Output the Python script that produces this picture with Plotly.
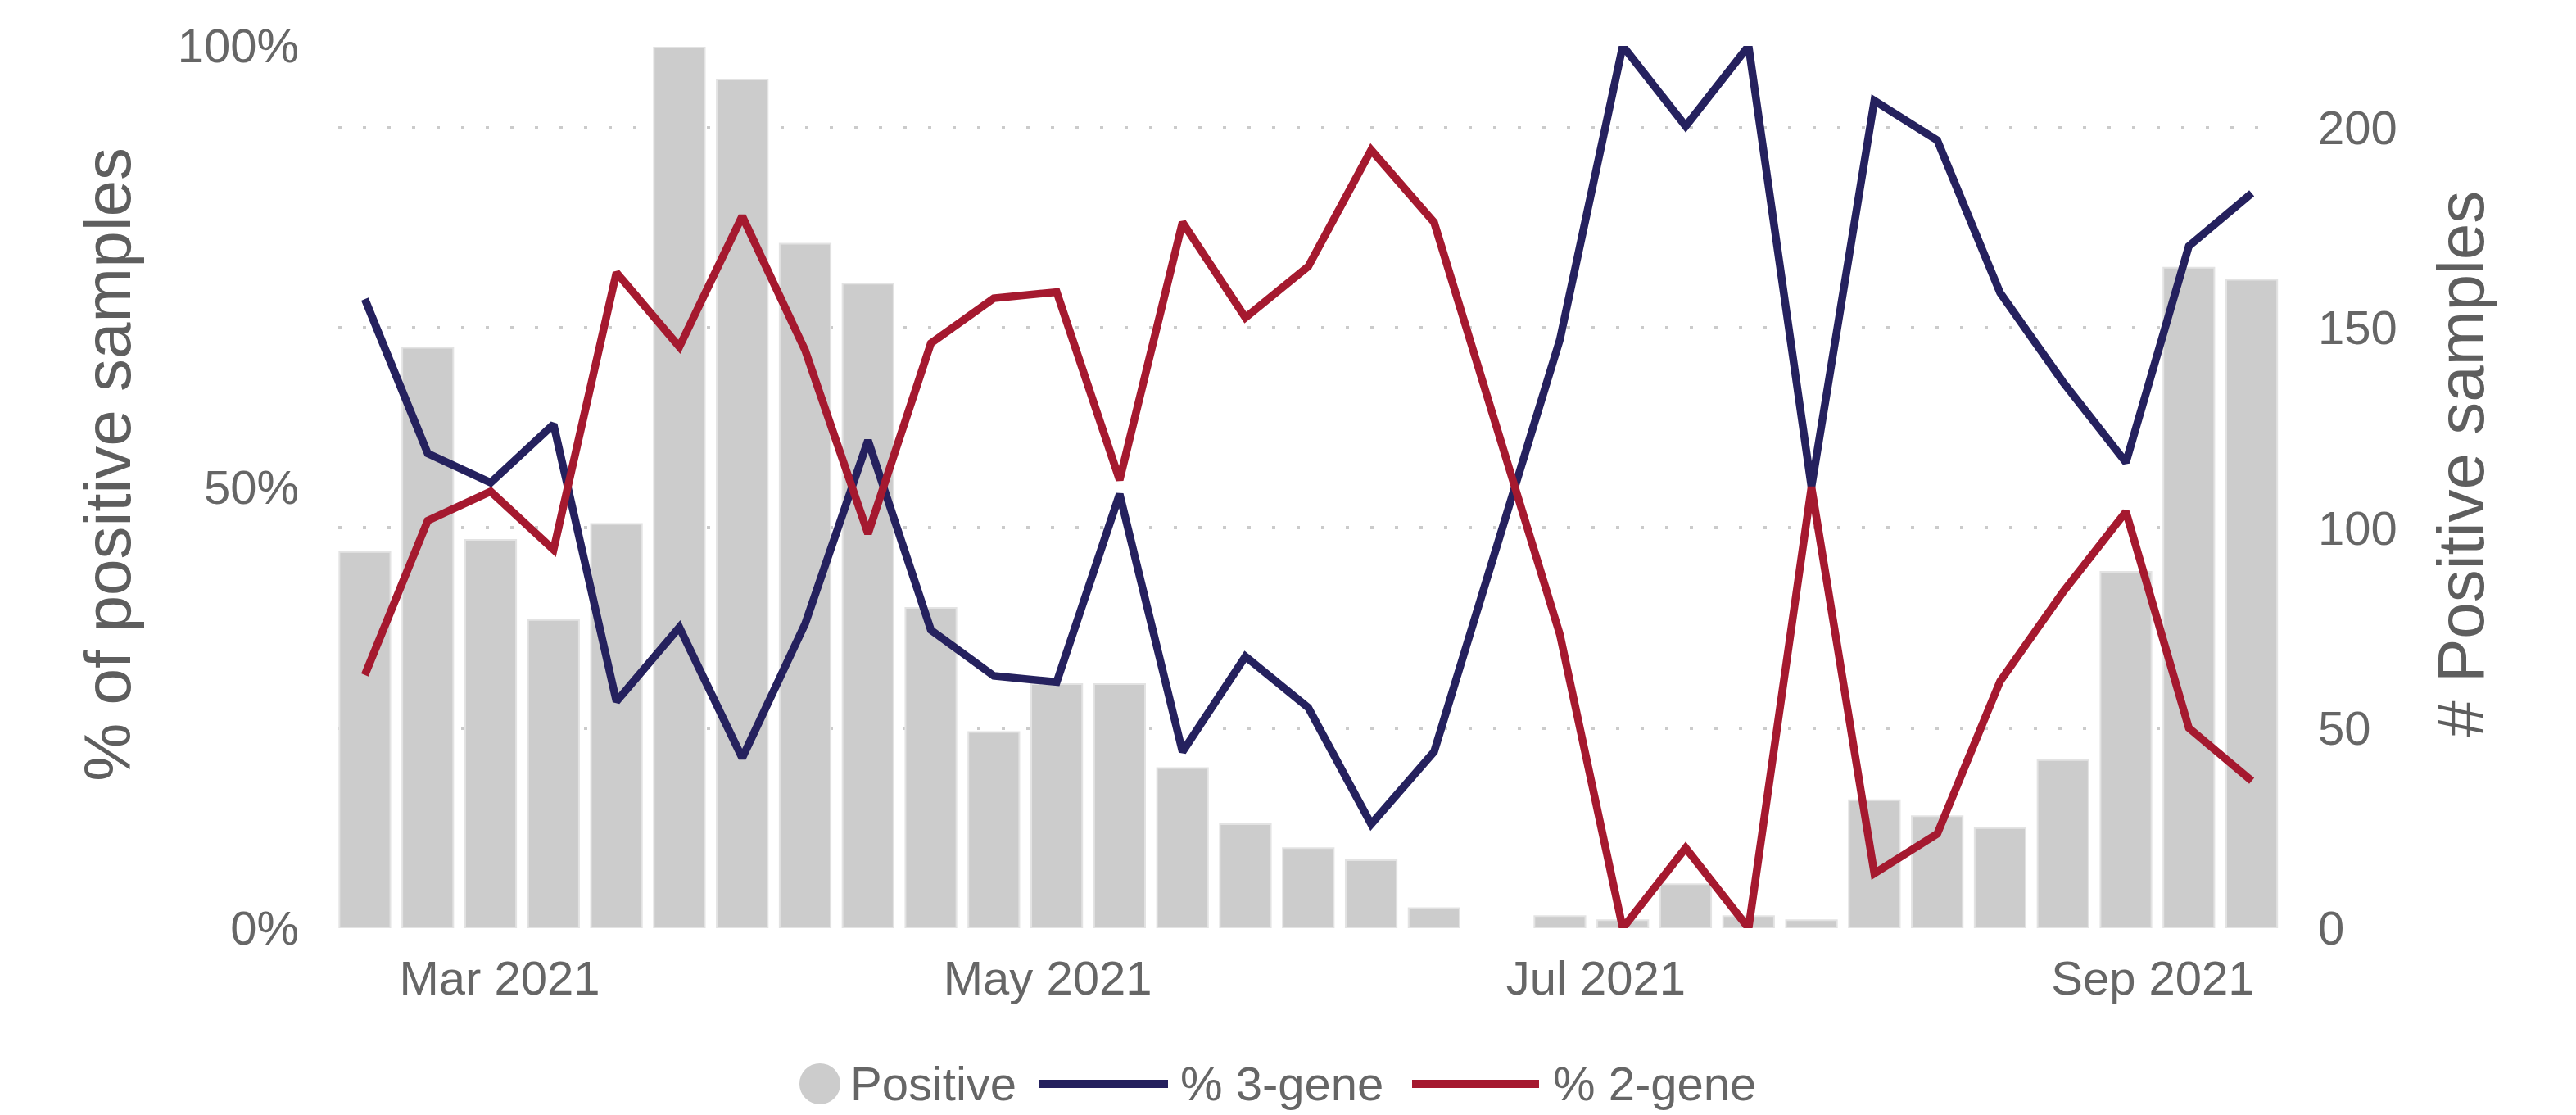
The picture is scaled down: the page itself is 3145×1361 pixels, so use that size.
import plotly.graph_objects as go

# ---- data ----
weeks = ["2021-02-14", "2021-02-21", "2021-02-28", "2021-03-07", "2021-03-14",
         "2021-03-21", "2021-03-28", "2021-04-04", "2021-04-11", "2021-04-18",
         "2021-04-25", "2021-05-02", "2021-05-09", "2021-05-16", "2021-05-23",
         "2021-05-30", "2021-06-06", "2021-06-13", "2021-06-20", "2021-06-27",
         "2021-07-04", "2021-07-11", "2021-07-18", "2021-07-25", "2021-08-01",
         "2021-08-08", "2021-08-15", "2021-08-22", "2021-08-29", "2021-09-05",
         "2021-09-12"]

positive = [94, 145, 97, 77, 101, 220, 212, 171, 161, 80,
            49, 61, 61, 40, 26, 20, 17, 5, None, 3,
            2, 11, 3, 2, 32, 28, 25, 42, 89, 165,
            162]

pct_3gene = [71.3, 53.8, 50.5, 57.1, 25.7, 34.1, 19.3, 34.5, 55.3, 33.8,
             28.6, 27.9, 49.2, 20.0, 30.8, 25.0, 11.8, 20.0, None, 66.7,
             100.0, 90.9, 100.0, 50.0, 93.8, 89.3, 72.0, 61.9, 52.8, 77.3,
             83.3]

pct_2gene = [28.7, 46.2, 49.5, 42.9, 74.3, 65.9, 80.7, 65.5, 44.7, 66.3,
             71.4, 72.1, 50.8, 80.0, 69.2, 75.0, 88.2, 80.0, None, 33.3,
             0.0, 9.1, 0.0, 50.0, 6.2, 10.7, 28.0, 38.1, 47.2, 22.7,
             16.7]

count_ticks = [0, 50, 100, 150, 200]
pct_ticks = [0, 50, 100]
pct_labels = ["0%", "50%", "100%"]

left_title = "% of positive samples"
right_title = "# Positive samples"

# ---- style / geometry (page pixels) ----
W, H = 3145, 1361
OFF = 8                      # default body margin of the html page
PL, PR, PT, PB = 413, 2782, 56, 1133.5   # plot area edges on the page
ML, MT = PL - OFF, PT - OFF
PW, PH = PR - PL, PB - PT
MR, MB = W - ML - PW, H - MT - PH

NAVY = "#25215E"
RED = "#A5192F"
BAR = "#CCCCCC"
TXT = "#666666"
TITLE = "#5E5E5E"
FONT = "Liberation Sans, Arial, sans-serif"


def px_x(px):
    return (px - PL) / PW


def px_y(py):
    return (PB - py) / PH


fig = go.Figure()
fig.add_trace(go.Bar(x=weeks, y=positive, name="Positive", yaxis="y",
                     marker=dict(color=BAR, line=dict(color="#E3E3E3", width=2))))
fig.add_trace(go.Scatter(x=weeks, y=pct_3gene, name="% 3-gene", yaxis="y2",
                         mode="lines", connectgaps=True,
                         line=dict(color=NAVY, width=9.5)))
fig.add_trace(go.Scatter(x=weeks, y=pct_2gene, name="% 2-gene", yaxis="y2",
                         mode="lines", connectgaps=True,
                         line=dict(color=RED, width=9.5)))

fig.update_layout(
    width=W, height=H,
    margin=dict(l=ML, r=MR, t=MT, b=MB, autoexpand=False),
    paper_bgcolor="white", plot_bgcolor="white",
    font=dict(family=FONT, size=58, color=TXT),
    showlegend=False,
    bargap=0.19,
    xaxis=dict(type="date", range=["2021-02-11 01:00", "2021-09-15 00:00"],
               tick0="2021-03-01", dtick="M2", tickformat="%b %Y",
               showgrid=False, showline=False, zeroline=False, ticks="",
               automargin=False, ticklabelstandoff=22),
    yaxis=dict(side="right", range=[0, 220.4], tickvals=count_ticks,
               showgrid=True, gridcolor="#CBCBCB", gridwidth=4, griddash="4px,26px",
               zeroline=False, showline=False, ticks="", automargin=False,
               ticklabelstandoff=47),
    yaxis2=dict(overlaying="y", side="left", range=[0, 100], tickvals=pct_ticks,
                ticktext=pct_labels, showgrid=False, zeroline=False, showline=False,
                ticks="", automargin=False, ticklabelstandoff=47),
)

# ---- axis titles ----
for (cx, txt) in [(132, left_title), (3005, right_title)]:
    fig.add_annotation(xref="paper", yref="paper", x=px_x(cx), y=px_y(567),
                       xanchor="center", yanchor="middle", showarrow=False,
                       textangle=-90, text=txt,
                       font=dict(size=80, color=TITLE, family=FONT))

# ---- legend drawn below the plot ----
ly = px_y(1323.5)
fig.add_shape(type="circle", xref="paper", yref="paper",
              xsizemode="pixel", ysizemode="pixel",
              xanchor=px_x(1001), yanchor=ly, x0=-25, x1=25, y0=-25, y1=25,
              fillcolor=BAR, line=dict(width=0))
for (x0, x1, col) in [(1268, 1426, NAVY), (1724, 1879, RED)]:
    fig.add_shape(type="line", xref="paper", yref="paper",
                  x0=px_x(x0), x1=px_x(x1), y0=ly, y1=ly,
                  line=dict(color=col, width=10))
for (xl, txt) in [(1036, "Positive"), (1439, "% 3-gene"), (1894, "% 2-gene")]:
    fig.add_annotation(xref="paper", yref="paper", x=px_x(xl), y=ly,
                       xanchor="left", yanchor="middle", showarrow=False,
                       text=txt, font=dict(size=58, color=TXT, family=FONT))

fig.write_html("out.html")
